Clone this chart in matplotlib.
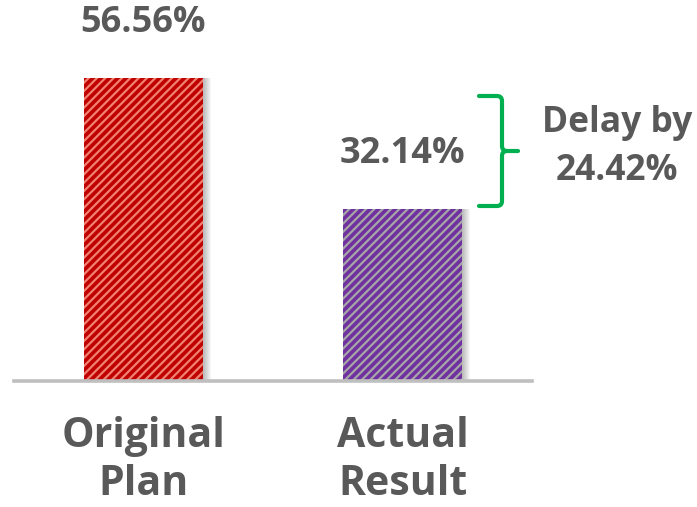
import matplotlib
matplotlib.use("Agg")
import matplotlib.pyplot as plt
from matplotlib.path import Path
from matplotlib.patches import PathPatch

categories = ["Original\nPlan", "Actual\nResult"]
values = [56.56, 32.14]
value_labels = ["56.56%", "32.14%"]
delay_text = "Delay by\n24.42%"

bar_colors = ["#C00000", "#7030A0"]
hatch_colors = ["#F08070", "#A6A6A6"]
text_color = "#595959"

plt.rcParams["hatch.linewidth"] = 1.6

W, H = 697, 507
fig = plt.figure(figsize=(W / 100, H / 100), dpi=100)

# axes placed in pixel terms
left_px, right_px = 14, 532
base_px = 381
ax = fig.add_axes([left_px / W, (H - base_px) / H, (right_px - left_px) / W, base_px / H])
ax.set_xlim(-0.5, 1.5)
ax.set_ylim(0, 71.1)

x = list(range(len(values)))
width = 0.4625
px = 1 / 259.5

# soft shadow
for k in range(1, 9):
    ax.bar([xi + k * px for xi in x], values, width=width, color="#000000",
           alpha=0.035, linewidth=0, zorder=1)

for xi, v, c, hc in zip(x, values, bar_colors, hatch_colors):
    ax.bar(xi, v, width=width, color=c, edgecolor=hc, hatch="////",
           linewidth=0, zorder=2)

for xi, v, lab in zip(x, values, value_labels):
    ax.annotate(lab, (xi, v), xytext=(0, 39.5), textcoords="offset points",
                ha="center", va="center", fontsize=26, fontweight="bold",
                color=text_color, family="Open Sans")

for s in ["top", "right", "left"]:
    ax.spines[s].set_visible(False)
ax.spines["bottom"].set_color("#BFBFBF")
ax.spines["bottom"].set_linewidth(2.6)
ax.set_yticks([])
ax.set_xticks(x)
ax.set_xticklabels(categories, fontsize=29.5, fontweight="bold", color=text_color,
                   family="Open Sans", linespacing=1.22)
ax.tick_params(axis="x", length=0, pad=25.5)

# overlay axes in pixel coords for bracket and note
ov = fig.add_axes([0, 0, 1, 1])
ov.set_xlim(0, W)
ov.set_ylim(H, 0)
ov.axis("off")
ov.patch.set_alpha(0)

verts = [(479, 96), (497, 96), (502, 96), (502, 101), (502, 146), (502, 151), (507, 151), (518, 151),
         (507, 151), (502, 151), (502, 156), (502, 201), (502, 206), (497, 206), (479, 206)]
codes = [Path.MOVETO, Path.LINETO, Path.CURVE3, Path.CURVE3, Path.LINETO, Path.CURVE3, Path.CURVE3,
         Path.LINETO, Path.MOVETO, Path.CURVE3, Path.CURVE3, Path.LINETO, Path.CURVE3, Path.CURVE3,
         Path.LINETO]
ov.add_patch(PathPatch(Path(verts, codes), facecolor="none", edgecolor="#00B050",
                       linewidth=3, capstyle="round", joinstyle="round"))

ov.text(617, 147, delay_text, ha="center", va="center", fontsize=25.5, fontweight="bold",
        color=text_color, family="Open Sans", linespacing=1.42)

fig.savefig("out.png", dpi=100)
